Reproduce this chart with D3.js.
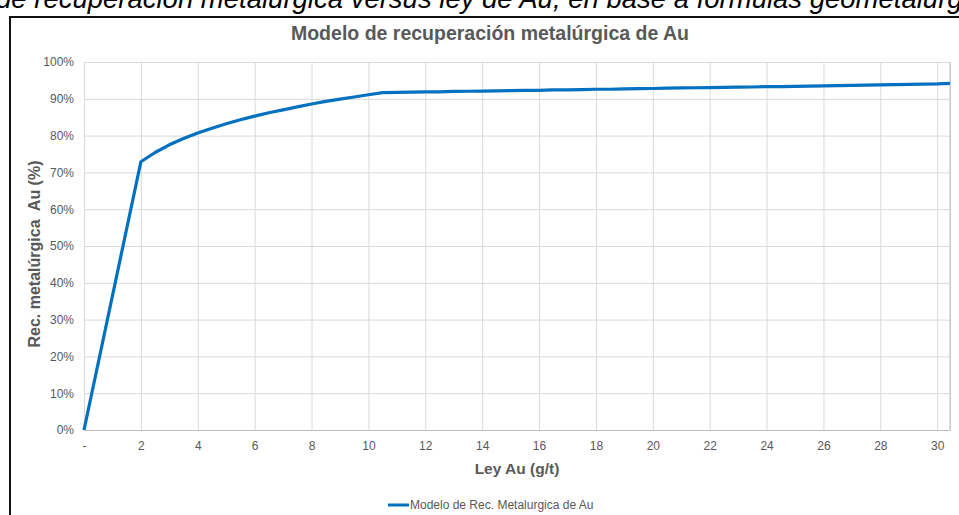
<!DOCTYPE html>
<html>
<head>
<meta charset="utf-8">
<script src="https://cdn.jsdelivr.net/npm/d3@7"></script>
<style>
  body { margin: 0; background: #fff; overflow: hidden; }
  svg { display: block; }
</style>
</head>
<body>
<div id="chart"></div>
<script>
// ley de Au (g/t) vs recuperación (%)
var leyAu = [0, 2, 2.5, 3, 3.5, 4, 4.5, 5, 5.5, 6, 6.5, 7, 7.5, 8, 8.5, 9, 9.5, 10, 10.5,
  11, 11.5, 12, 12.5, 13, 13.5, 14, 14.5, 15, 15.5, 16, 16.5, 17, 17.5, 18, 18.5, 19, 19.5,
  20, 20.5, 21, 21.5, 22, 22.5, 23, 23.5, 24, 24.5, 25, 25.5, 26, 26.5, 27, 27.5, 28, 28.5,
  29, 29.5, 30, 30.45];
var recup = [0, 72.9, 75.4, 77.5, 79.2, 80.7, 82.0, 83.2, 84.3, 85.3, 86.2, 87.0, 87.8, 88.6, 89.3, 89.9, 90.5, 91.1, 91.7,
  91.75, 91.8, 91.9, 91.9, 92.0, 92.05, 92.1, 92.15, 92.2, 92.3, 92.3, 92.4, 92.45, 92.5, 92.6, 92.6, 92.7, 92.75,
  92.8, 92.9, 92.95, 93.0, 93.05, 93.1, 93.15, 93.2, 93.3, 93.3, 93.4, 93.45, 93.5, 93.6, 93.65, 93.7, 93.8, 93.85,
  93.9, 94.0, 94.05, 94.2];
var xTicks = [0, 2, 4, 6, 8, 10, 12, 14, 16, 18, 20, 22, 24, 26, 28, 30];
var yTicks = [0, 10, 20, 30, 40, 50, 60, 70, 80, 90, 100];

var chartTitle = "Modelo de recuperación metalúrgica de Au";
var xTitle = "Ley Au (g/t)";
var yTitle = "Rec. metalúrgica\u00a0 Au (%)";
var seriesName = "Modelo de Rec. Metalurgica de Au";
var caption = "de recuperación metalúrgica versus ley de Au, en base a fórmulas geometalúrgicas";

var W = 959, H = 515;
var margin = {top: 62, right: 9, bottom: 85, left: 84};
var width = W - margin.left - margin.right;
var height = H - margin.top - margin.bottom;

var svg = d3.select("#chart").append("svg")
    .attr("width", W)
    .attr("height", H);

// caption of the document, cut at the top
svg.append("text")
    .attr("x", -4)
    .attr("y", 8)
    .attr("font-family", "Liberation Sans, Arial, sans-serif")
    .attr("font-style", "italic")
    .attr("font-size", 27.5)
    .attr("fill", "#000")
    .text(caption);

// black frame round the chart
svg.append("rect")
    .attr("x", 10)
    .attr("y", 17)
    .attr("width", 980)
    .attr("height", 520)
    .attr("fill", "none")
    .attr("stroke", "#111")
    .attr("stroke-width", 2);

var x = d3.scaleLinear().domain([0, 30.45]).range([0, width]);
var y = d3.scaleLinear().domain([0, 100]).range([height, 0]);

var g = svg.append("g")
    .attr("transform", "translate(" + margin.left + "," + margin.top + ")");

// gridlines
g.append("g")
    .attr("class", "grid")
    .call(d3.axisLeft(y).tickValues(yTicks).tickSize(-width).tickFormat(""))
    .call(function(s) { s.select(".domain").remove(); })
    .selectAll("line").attr("stroke", "#d9d9d9");

g.append("g")
    .attr("class", "grid")
    .attr("transform", "translate(0," + height + ")")
    .call(d3.axisBottom(x).tickValues(xTicks.concat([30.45])).tickSize(-height).tickFormat(""))
    .call(function(s) { s.select(".domain").remove(); })
    .selectAll("line").attr("stroke", "#d9d9d9");

// plot area right edge
g.append("line")
    .attr("x1", width).attr("x2", width)
    .attr("y1", 0).attr("y2", height)
    .attr("stroke", "#bfbfbf");

// y axis labels
var yAxis = g.append("g")
    .call(d3.axisLeft(y).tickValues(yTicks).tickSize(0).tickPadding(10)
        .tickFormat(function(d) { return d + "%"; }));
yAxis.select(".domain").attr("stroke", "#d9d9d9");
yAxis.selectAll("text")
    .attr("font-family", "Liberation Sans, Arial, sans-serif")
    .attr("font-size", 12)
    .attr("fill", "#595959");

// x axis labels
var xAxis = g.append("g")
    .attr("transform", "translate(0," + height + ")")
    .call(d3.axisBottom(x).tickValues(xTicks).tickSize(0).tickPadding(11)
        .tickFormat(function(d) { return d === 0 ? "-" : d; }));
xAxis.select(".domain").attr("stroke", "#bfbfbf");
xAxis.selectAll("text")
    .attr("font-family", "Liberation Sans, Arial, sans-serif")
    .attr("font-size", 12)
    .attr("fill", "#595959");

// the curve
var pts = leyAu.map(function(d, i) { return [d, recup[i]]; });
g.append("path")
    .datum(pts)
    .attr("fill", "none")
    .attr("stroke", "#0070c0")
    .attr("stroke-width", 3.2)
    .attr("stroke-linejoin", "round")
    .attr("d", d3.line()
        .x(function(d) { return x(d[0]); })
        .y(function(d) { return y(d[1]); }));

// titles
svg.append("text")
    .attr("x", 490)
    .attr("y", 40)
    .attr("text-anchor", "middle")
    .attr("font-family", "Liberation Sans Narrow, Arial Narrow, sans-serif")
    .attr("font-weight", "bold")
    .attr("font-size", 19.5)
    .attr("fill", "#595959")
    .text(chartTitle);

svg.append("text")
    .attr("x", margin.left + width / 2)
    .attr("y", 474)
    .attr("text-anchor", "middle")
    .attr("font-family", "Liberation Sans, Arial, sans-serif")
    .attr("font-weight", "bold")
    .attr("font-size", 15.5)
    .attr("fill", "#595959")
    .text(xTitle);

svg.append("text")
    .attr("transform", "translate(40," + (margin.top + height / 2 + 8) + ") rotate(-90)")
    .attr("text-anchor", "middle")
    .attr("font-family", "Liberation Sans, Arial, sans-serif")
    .attr("font-weight", "bold")
    .attr("font-size", 16)
    .attr("fill", "#595959")
    .text(yTitle);

// legend
var legend = svg.append("g").attr("transform", "translate(388,505)");
legend.append("line")
    .attr("x1", 0).attr("x2", 21)
    .attr("stroke", "#0070c0")
    .attr("stroke-width", 3);
legend.append("text")
    .attr("x", 22)
    .attr("y", 4)
    .attr("font-family", "Liberation Sans Narrow, Arial Narrow, sans-serif")
    .attr("font-size", 12)
    .attr("fill", "#595959")
    .text(seriesName);
</script>
</body>
</html>
